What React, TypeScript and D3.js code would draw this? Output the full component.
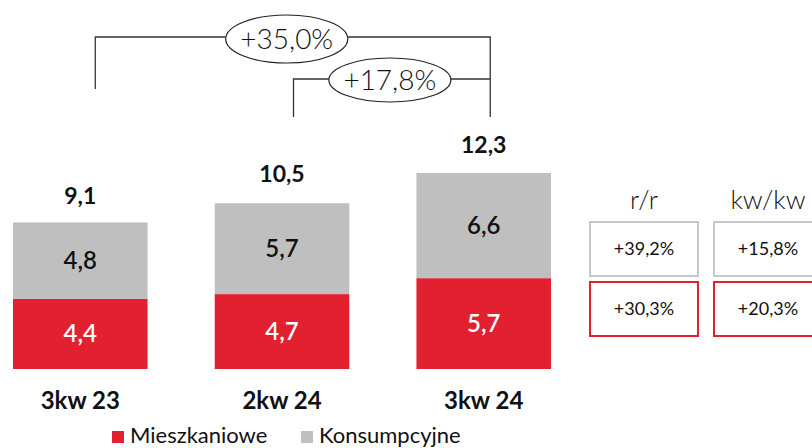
import React from 'react';
import * as d3 from 'd3';

const width = 812;
const height = 448;
const red = '#e3202f';
const grey = '#bfbfbf';
const font = 'Lato, "Noto Sans", sans-serif';

const categories = ['3kw 23', '2kw 24', '3kw 24'];
const mieszkaniowe = [4.4, 4.7, 5.7];
const konsumpcyjne = [4.8, 5.7, 6.6];
const totals = [9.1, 10.5, 12.3];
const seriesNames = ['Mieszkaniowe', 'Konsumpcyjne'];

// growth annotations (bracket from -> to)
const growthOuter = { from: '3kw 23', to: '3kw 24', label: '+35,0%' };
const growthInner = { from: '2kw 24', to: '3kw 24', label: '+17,8%' };

const boxHeaders = ['r/r', 'kw/kw'];
const boxKonsump = ['+39,2%', '+15,8%'];
const boxMieszk = ['+30,3%', '+20,3%'];

const fmt = (v: number) => d3.format('.1f')(v).replace('.', ',');

export default function App() {
  const xScale = d3.scaleBand<string>().domain(categories).range([13, 551]).paddingInner(0.333).paddingOuter(0);
  const yScale = d3.scaleLinear().domain([0, 12.3]).range([369, 173]);
  const bw = xScale.bandwidth();

  const stack = d3.stack<any>().keys(['m', 'k'])(
    categories.map((c, i) => ({ cat: c, m: mieszkaniowe[i], k: konsumpcyjne[i] }))
  );
  const colors = [red, grey];
  const labelColors = ['#ffffff', '#111111'];

  const cx = (c: string) => (xScale(c) as number) + bw / 2;

  // bracket geometry
  const outerY = 37;
  const innerY = 79;
  const outerL = cx(growthOuter.from) + 15;
  const innerL = cx(growthInner.from) + 11.5;
  const right = cx(growthOuter.to) + 6.5;
  const e1 = { x: (outerL + right) / 2 - 6, y: 39, rx: 61, ry: 24 };
  const e2 = { x: (innerL + right) / 2 - 2, y: 80, rx: 61, ry: 22 };

  const boxX = d3.scaleBand<string>().domain(boxHeaders).range([589, 823]).paddingInner(0.113).paddingOuter(0);
  const boxW = boxX.bandwidth();
  const boxRows = [
    { vals: boxKonsump, stroke: '#c8c8c8', y: 222 },
    { vals: boxMieszk, stroke: red, y: 282 },
  ];

  return (
    <svg width={width} height={height} style={{ position: 'absolute', left: 0, top: 0, background: '#fff' }}>
      {stack.map((layer, li) =>
        layer.map((d, i) => (
          <g key={`${li}-${i}`}>
            <rect x={xScale(categories[i])} y={yScale(d[1])} width={bw} height={yScale(d[0]) - yScale(d[1])} fill={colors[li]} />
            <text
              x={cx(categories[i])}
              y={(yScale(d[0]) + yScale(d[1])) / 2 + 8}
              textAnchor="middle"
              fontFamily={font}
              fontSize={24}
              fontWeight={600}
              fill={labelColors[li]}
            >
              {fmt(d[1] - d[0])}
            </text>
          </g>
        ))
      )}
      {totals.map((t, i) => (
        <text key={i} x={cx(categories[i])} y={yScale(t) - 20} textAnchor="middle" fontFamily={font} fontSize={23} fontWeight={700} fill="#111">
          {fmt(t)}
        </text>
      ))}
      {categories.map((c) => (
        <text key={c} x={cx(c)} y={409} textAnchor="middle" fontFamily={font} fontSize={24} fontWeight={700} fill="#111">
          {c}
        </text>
      ))}

      {/* brackets */}
      <g stroke="#333" strokeWidth={1.3} fill="none">
        <polyline points={`${outerL},89 ${outerL},${outerY} ${e1.x - e1.rx},${outerY}`} />
        <polyline points={`${e1.x + e1.rx},${outerY} ${right},${outerY} ${right},117`} />
        <polyline points={`${innerL},117 ${innerL},${innerY} ${e2.x - e2.rx},${innerY}`} />
        <line x1={e2.x + e2.rx} y1={innerY} x2={right} y2={innerY} />
      </g>
      {[{ e: e1, label: growthOuter.label }, { e: e2, label: growthInner.label }].map(({ e, label }) => (
        <g key={label}>
          <ellipse cx={e.x} cy={e.y} rx={e.rx} ry={e.ry} fill="#fff" stroke="#222" strokeWidth={1.2} />
          <text x={e.x} y={e.y + 10} textAnchor="middle" fontFamily={font} fontSize={28} fontWeight={300} fill="#111">
            {label}
          </text>
        </g>
      ))}

      {/* growth boxes */}
      {boxHeaders.map((h) => (
        <text key={h} x={(boxX(h) as number) + boxW / 2} y={209} textAnchor="middle" fontFamily={font} fontSize={26} fontWeight={300} fill="#111">
          {h}
        </text>
      ))}
      {boxRows.map((row) =>
        boxHeaders.map((h, i) => (
          <g key={`${row.y}-${h}`}>
            <rect x={(boxX(h) as number) + 1} y={row.y} width={boxW - 2} height={54} fill="#fff" stroke={row.stroke} strokeWidth={2} />
            <text x={(boxX(h) as number) + boxW / 2} y={row.y + 33} textAnchor="middle" fontFamily={font} fontSize={18} fill="#111">
              {row.vals[i]}
            </text>
          </g>
        ))
      )}

      {/* legend */}
      {seriesNames.map((s, i) => {
        const lx = i === 0 ? 112 : 301;
        return (
          <g key={s}>
            <rect x={lx} y={431} width={12} height={12} fill={colors[i]} />
            <text x={lx + 18} y={443} fontFamily={font} fontSize={22} fill="#111">
              {s}
            </text>
          </g>
        );
      })}
    </svg>
  );
}
